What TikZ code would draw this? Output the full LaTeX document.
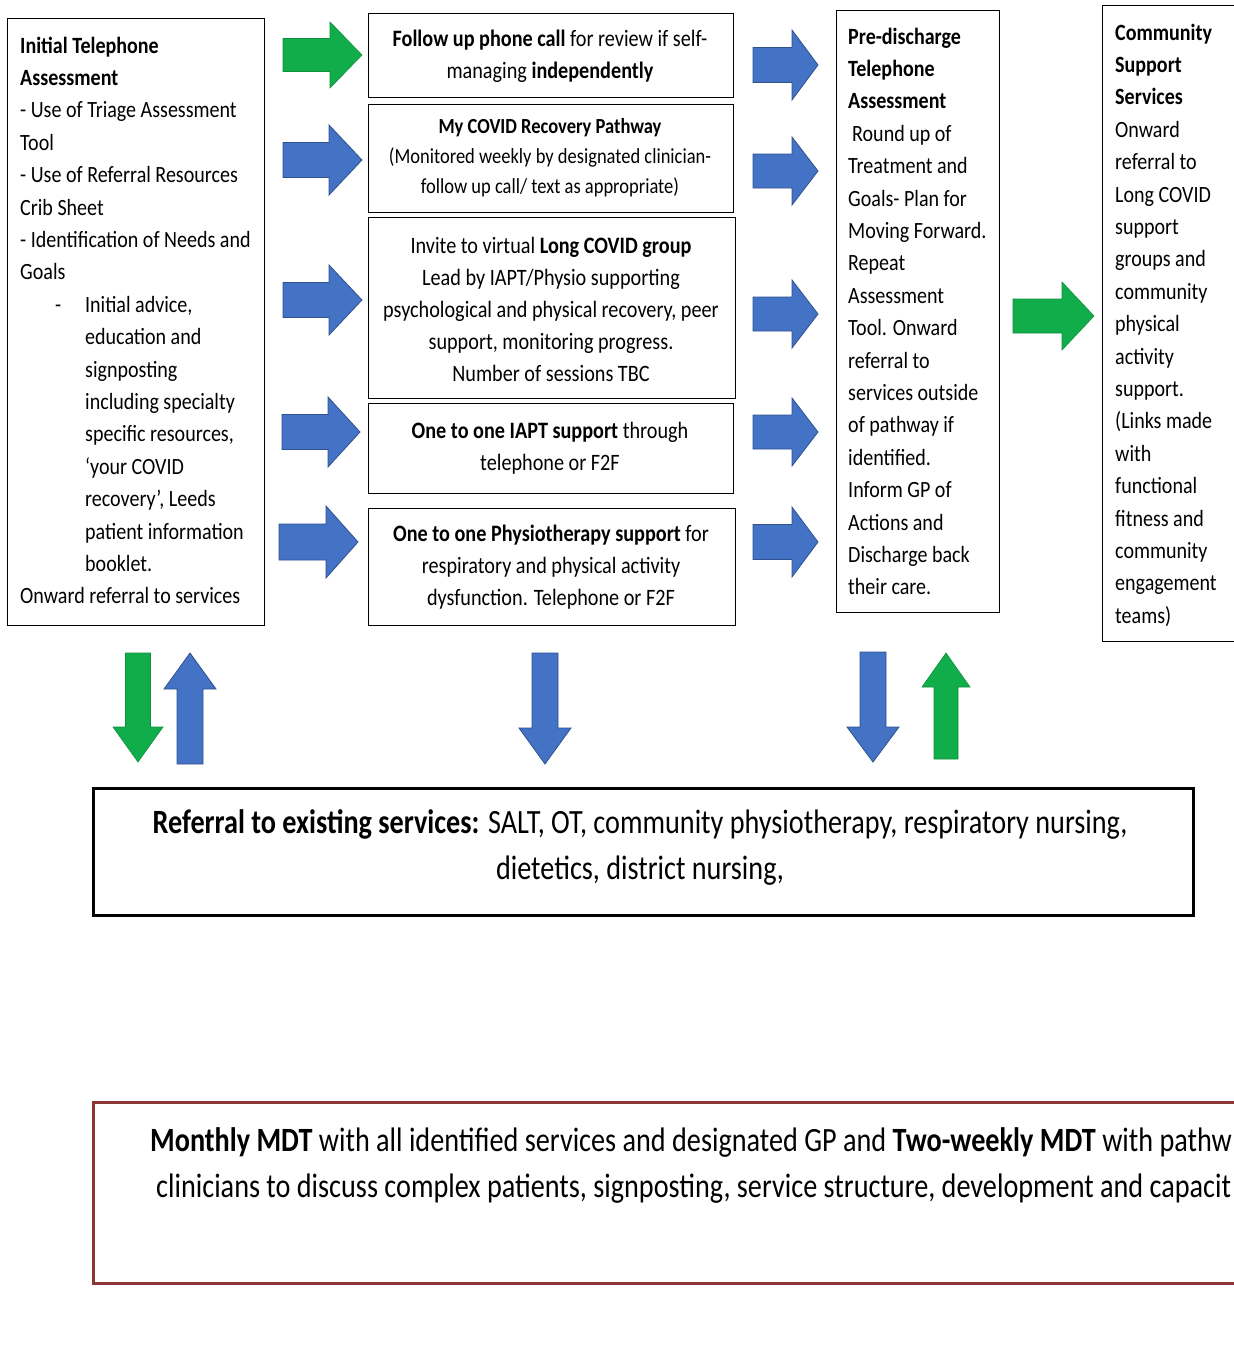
\documentclass[tikz,border=0pt]{standalone}
\usepackage{fontspec}
\setmainfont{Carlito}[FakeStretch=0.86]
\newfontfamily\bigfont{Carlito}[FakeStretch=0.83]
\definecolor{oblue}{HTML}{4472C4}
\definecolor{oblueD}{HTML}{2F528F}
\definecolor{ogreen}{HTML}{12AD4B}
\definecolor{ogreenD}{HTML}{0E8F3C}
\definecolor{mdtred}{HTML}{8B3535}
\tikzset{
  box/.style={draw=black, line width=1.4pt, fill=white, inner sep=0pt, anchor=north west},
  ltxt/.style={inner sep=0pt, align=left, anchor=north west, font=\fontsize{23.3}{32.4}\selectfont},
  ctxt/.style={inner sep=0pt, align=center, anchor=center, font=\fontsize{23.5}{32}\selectfont},
  bluearr/.style={fill=oblue, draw=oblueD, line width=0.8pt},
  greenarr/.style={fill=ogreen, draw=ogreenD, line width=0.6pt}
}
% horizontal block arrow: x-left, x-head, x-tip, y-centre, half head height, style
\newcommand\harr[6]{\filldraw[#6] (#1,{#4-0.5*#5}) -- (#2,{#4-0.5*#5}) -- (#2,{#4-#5}) -- (#3,#4) -- (#2,{#4+#5}) -- (#2,{#4+0.5*#5}) -- (#1,{#4+0.5*#5}) -- cycle;}
% vertical block arrow: x-centre, y-base, y-head, y-tip, half head width, style
\newcommand\varr[6]{\filldraw[#6] ({#1-0.5*#5},#2) -- ({#1+0.5*#5},#2) -- ({#1+0.5*#5},#3) -- ({#1+#5},#3) -- (#1,#4) -- ({#1-#5},#3) -- ({#1-0.5*#5},#3) -- cycle;}
\begin{document}
\begin{tikzpicture}[x=1pt,y=-1pt]
\useasboundingbox (0,0) rectangle (1234,1369);
\fill[white] (0,0) rectangle (1234,1369);
\clip (0,0) rectangle (1234,1369);

% ---- boxes ----
\node[box, minimum width=257, minimum height=607] (A) at (7,18) {};
\node[box, minimum width=365, minimum height=84] (B1) at (368,13) {};
\node[box, minimum width=365, minimum height=108] (B2) at (368,104) {};
\node[box, minimum width=367, minimum height=181] (B3) at (368,217) {};
\node[box, minimum width=365, minimum height=90] (B4) at (368,403) {};
\node[box, minimum width=367, minimum height=117] (B5) at (368,508) {};
\node[box, minimum width=163, minimum height=602] (C) at (836,10) {};
\node[box, minimum width=150, minimum height=636] (D) at (1102,5) {};
\node[box, line width=2.8pt, minimum width=1100, minimum height=127] (E) at (92,787) {};
\node[box, draw=mdtred, line width=2.8pt, minimum width=1250, minimum height=181] (F) at (92,1101) {};

% ---- texts ----
\node[ltxt] (At) at (20,36.5) {\textbf{Initial Telephone}\\\textbf{Assessment}\\- Use of Triage Assessment\\Tool\\- Use of Referral Resources\\Crib Sheet\\- Identification of Needs and\\Goals\\
\hspace*{35pt}\makebox[30pt][l]{-}Initial advice,\\
\hspace*{65pt}education and\\
\hspace*{65pt}signposting\\
\hspace*{65pt}including specialty\\
\hspace*{65pt}specific resources,\\
\hspace*{65pt}‘your COVID\\
\hspace*{65pt}recovery’, Leeds\\
\hspace*{65pt}patient information\\
\hspace*{65pt}booklet.\\
Onward referral to services};

\node[ctxt] (B1t) at (550,56) {\textbf{Follow up phone call} for review if self-\\managing \textbf{independently}};
\node[ctxt, font=\fontsize{21.5}{30}\selectfont] (B2t) at (550,158) {\textbf{My COVID Recovery Pathway}\\(Monitored weekly by designated clinician-\\follow up call/ text as appropriate)};
\node[ctxt] (B3t) at (551,309) {Invite to virtual \textbf{Long COVID group}\\Lead by IAPT/Physio supporting\\psychological and physical recovery, peer\\support, monitoring progress.\\Number of sessions TBC};
\node[ctxt] (B4t) at (550,448) {\textbf{One to one IAPT support} through\\telephone or F2F};
\node[ctxt] (B5t) at (551,567) {\textbf{One to one Physiotherapy support} for\\respiratory and physical activity\\dysfunction. Telephone or F2F};

\node[ltxt] (Ct) at (848,27.5) {\textbf{Pre-discharge}\\\textbf{Telephone}\\\textbf{Assessment}\\\hspace*{4pt}Round up of\\Treatment and\\Goals- Plan for\\Moving Forward.\\Repeat\\Assessment\\Tool. Onward\\referral to\\services outside\\of pathway if\\identified.\\Inform GP of\\Actions and\\Discharge back\\their care.};

\node[ltxt] (Dt) at (1115,23.5) {\textbf{Community}\\\textbf{Support}\\\textbf{Services}\\Onward\\referral to\\Long COVID\\support\\groups and\\community\\physical\\activity\\support.\\(Links made\\with\\functional\\fitness and\\community\\engagement\\teams)};

\node[ctxt, font=\bigfont\fontsize{34}{46}\selectfont] (Et) at (640,847) {\textbf{Referral to existing services:} SALT, OT, community physiotherapy, respiratory nursing,\\dietetics, district nursing,};

\node[ltxt, font=\bigfont\fontsize{34}{46}\selectfont] (Ft) at (150,1127) {\textbf{Monthly MDT} with all identified services and designated GP and \textbf{Two-weekly MDT} with pathw\\\hspace*{6pt}clinicians to discuss complex patients, signposting, service structure, development and capacit};

% ---- horizontal block arrows ----
\harr{283}{330}{362}{55}{33}{greenarr}
\harr{283}{329}{362}{160}{35}{bluearr}
\harr{283}{329}{362}{300}{35}{bluearr}
\harr{282}{328}{360}{432}{35}{bluearr}
\harr{279}{326}{358}{542}{36}{bluearr}

\harr{753}{792}{818}{65}{35}{bluearr}
\harr{753}{792}{818}{171}{34}{bluearr}
\harr{753}{792}{818}{314}{34}{bluearr}
\harr{753}{792}{818}{432}{34}{bluearr}
\harr{753}{792}{818}{542}{35}{bluearr}

\harr{1013}{1062}{1094}{316}{34}{greenarr}

% ---- vertical block arrows ----
\varr{138}{653}{727}{762}{25}{greenarr}
\varr{190}{764}{689}{653}{26}{bluearr}
\varr{545}{653}{728}{764}{26}{bluearr}
\varr{873}{652}{727}{762}{26}{bluearr}
\varr{946}{759}{687}{653}{24}{greenarr}
\end{tikzpicture}
\end{document}
